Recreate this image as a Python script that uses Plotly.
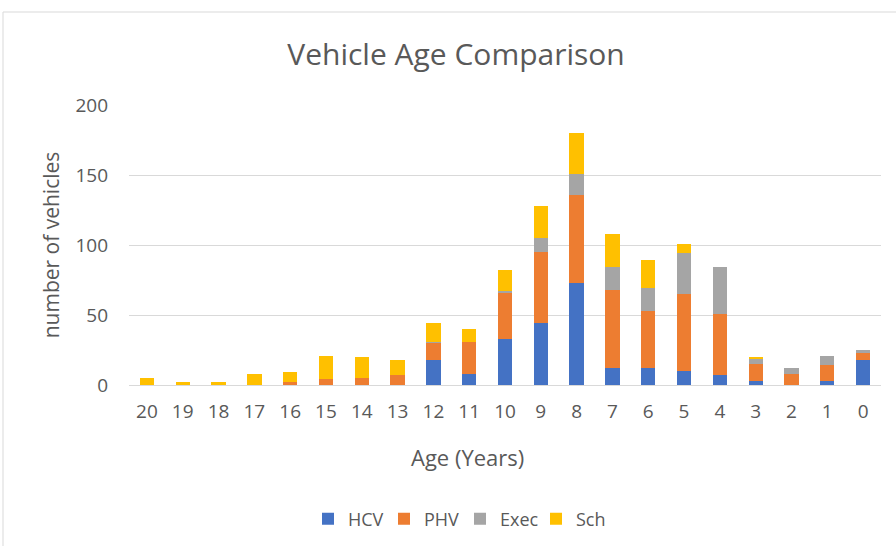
import plotly.graph_objects as go

ages = ["20", "19", "18", "17", "16", "15", "14", "13", "12", "11", "10",
        "9", "8", "7", "6", "5", "4", "3", "2", "1", "0"]
hcv  = [0, 0, 0, 0, 0, 0, 0, 0, 18, 8, 33, 44, 73, 12, 12, 10, 7, 3, 0, 3, 18]
phv  = [0, 0, 0, 0, 2, 4, 5, 7, 12, 23, 33, 51, 63, 56, 41, 55, 44, 12, 8, 11, 5]
exec_ = [0, 0, 0, 0, 0, 0, 0, 0, 1, 0, 1, 10, 15, 16, 16, 29, 33, 4, 4, 7, 2]
sch  = [5, 2, 2, 8, 7, 17, 15, 11, 13, 9, 15, 23, 29, 24, 20, 7, 0, 1, 0, 0, 0]

series = [("HCV", hcv, "#4472C4"), ("PHV", phv, "#ED7D31"),
          ("Exec", exec_, "#A5A5A5"), ("Sch", sch, "#FFC000")]

fig = go.Figure()
for name, vals, color in series:
    fig.add_trace(go.Bar(x=ages, y=vals, name=name, marker_color=color,
                         marker_line_width=0))

font_fam = "Open Sans, Lato, sans-serif"
W, H = 896, 546
l, r, t, b = 129, 15, 105, 161
pw, ph = W - l - r, H - t - b
grey = "#595959"

fig.update_layout(
    width=W, height=H,
    barmode="stack", bargap=0.6,
    plot_bgcolor="white", paper_bgcolor="white",
    margin=dict(l=l, r=r, t=t, b=b, autoexpand=False),
    font=dict(family=font_fam, color=grey, size=18),
    title=dict(text="Vehicle Age Comparison", x=(456 - l) / pw, xref="paper",
               xanchor="center", y=1 - 54 / H, yanchor="middle",
               font=dict(size=30, color=grey, family=font_fam)),
    xaxis=dict(type="category", showgrid=False, showline=True,
               linecolor="#d9d9d9", linewidth=1, ticks="", automargin=False,
               tickfont=dict(size=19, color=grey), ticklabelstandoff=9),
    yaxis=dict(range=[0, 200], dtick=50, showgrid=True, gridcolor="#d9d9d9",
               gridwidth=1, zeroline=False, showline=False, ticks="",
               automargin=False,
               tickfont=dict(size=19, color=grey), ticklabelstandoff=20,
               title=dict(text="number of vehicles", font=dict(size=21, color=grey),
                          standoff=10)),
    legend=dict(orientation="h", x=(460 - l) / pw, xanchor="center",
                y=-(519 - 385) / ph, yanchor="middle",
                font=dict(size=18, color=grey), itemwidth=30,
                entrywidth=31, entrywidthmode="pixels",
                traceorder="normal"),
    annotations=[dict(text="Age (Years)", xref="paper", yref="paper",
                      x=(467 - l) / pw, y=-(457 - 385) / ph,
                      xanchor="center", yanchor="middle", showarrow=False,
                      font=dict(size=22, color=grey, family=font_fam))],
    shapes=[dict(type="rect", xref="paper", yref="paper",
                 x0=(3 - l) / pw, x1=(W + 5 - l) / pw,
                 y0=(H - b - (H + 5)) / ph, y1=(H - b - 12) / ph,
                 line=dict(color="#d9d9d9", width=1), fillcolor="rgba(0,0,0,0)",
                 layer="below")],
)

fig.write_html("out.html", config={"displayModeBar": False},
               post_script="document.body.style.margin='0';document.body.style.overflow='hidden';")
